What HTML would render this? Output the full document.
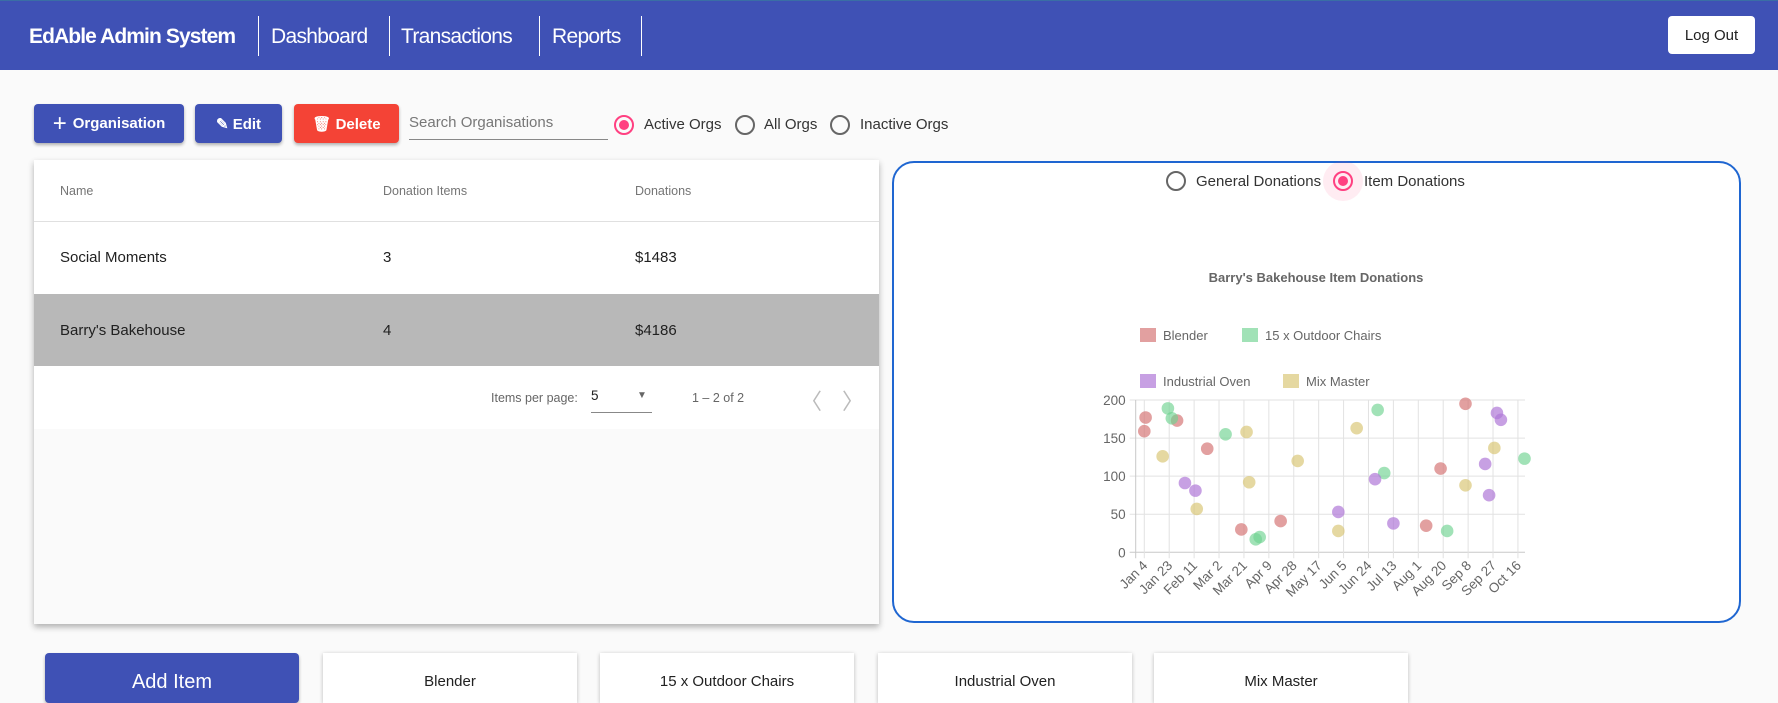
<!DOCTYPE html>
<html><head><meta charset="utf-8">
<style>
*{box-sizing:border-box;margin:0;padding:0}
body{width:1778px;height:692px;overflow:hidden;background:#fafafa;font-family:"Liberation Sans",sans-serif;position:relative;color:#212121}
.abs{position:absolute}
.hdr{left:0;top:0;width:1778px;height:70px;background:#3f51b5;border-top:1px solid #3a6ea5}
.nav{color:#fff;font-size:21px;top:25px;letter-spacing:-0.7px}
.div{top:16px;width:1px;height:40px;background:#fff}
.btn{color:#fff;font-weight:bold;font-size:15px;border-radius:4px;display:flex;align-items:center;justify-content:center;box-shadow:0 2px 3px rgba(0,0,0,.3)}
.radio{width:20px;height:20px;border:2px solid #666;border-radius:50%}
.radio.on{border-color:#ff4081}
.radio.on::after{content:"";position:absolute;left:3px;top:3px;width:10px;height:10px;border-radius:50%;background:#ff4081}
.lbl{font-size:15px;color:#333}
.card{background:#fff;box-shadow:0 3px 6px rgba(0,0,0,.3)}
.cell{font-size:15px}
.hcell{font-size:12.5px;color:#757575}
.tile{top:653px;width:254px;height:50px;background:#fff;box-shadow:0 1px 4px rgba(0,0,0,.25);text-align:center;padding-top:20px;font-size:15px}
</style></head><body>
<div class="abs hdr"></div>
<div class="abs nav" style="left:29px;font-weight:bold;font-size:21px;letter-spacing:-0.9px">EdAble Admin System</div>
<div class="abs div" style="left:258px"></div><div class="abs div" style="left:389px"></div><div class="abs div" style="left:539px"></div><div class="abs div" style="left:641px"></div>
<div class="abs nav" style="left:271px">Dashboard</div>
<div class="abs nav" style="left:401px">Transactions</div>
<div class="abs nav" style="left:552px">Reports</div>
<div class="abs" style="left:1668px;top:16px;width:87px;height:38px;background:#fff;border-radius:4px;font-size:15px;display:flex;align-items:center;justify-content:center">Log Out</div>

<div class="abs btn" style="left:34px;top:104px;width:150px;height:39px;background:#3f51b5"><span style="font-size:24px;font-weight:normal;margin-right:6px">+</span>Organisation</div>
<div class="abs btn" style="left:195px;top:104px;width:87px;height:39px;background:#3f51b5">✎ Edit</div>
<div class="abs btn" style="left:294px;top:104px;width:105px;height:39px;background:#f44336">🗑 Delete</div>
<div class="abs" style="left:409px;top:114px;width:199px;height:26px;border-bottom:1px solid #888;font-size:15px;color:#777">Search Organisations</div>
<div class="abs radio on" style="left:614px;top:115px"></div>
<div class="abs lbl" style="left:644px;top:116px">Active Orgs</div>
<div class="abs radio" style="left:735px;top:115px"></div>
<div class="abs lbl" style="left:764px;top:116px">All Orgs</div>
<div class="abs radio" style="left:830px;top:115px"></div>
<div class="abs lbl" style="left:860px;top:116px">Inactive Orgs</div>

<div class="abs card" style="left:34px;top:160px;width:845px;height:464px;background:#fafafa">
 <div class="abs" style="left:0;top:0;width:845px;height:269px;background:#fff"></div>
 <div class="abs hcell" style="left:26px;top:24px">Name</div>
 <div class="abs hcell" style="left:349px;top:24px">Donation Items</div>
 <div class="abs hcell" style="left:601px;top:24px">Donations</div>
 <div class="abs" style="left:0;top:61px;width:845px;height:1px;background:#e0e0e0"></div>
 <div class="abs cell" style="left:26px;top:89px">Social Moments</div>
 <div class="abs cell" style="left:349px;top:89px">3</div>
 <div class="abs cell" style="left:601px;top:89px">$1483</div>
 <div class="abs" style="left:0;top:134px;width:845px;height:72px;background:#b8b8b8"></div>
 <div class="abs cell" style="left:26px;top:162px">Barry's Bakehouse</div>
 <div class="abs cell" style="left:349px;top:162px">4</div>
 <div class="abs cell" style="left:601px;top:162px">$4186</div>
 <div class="abs" style="left:457px;top:231px;font-size:12.5px;color:#666">Items per page:</div>
 <div class="abs" style="left:557px;top:228px;width:61px;height:25px;border-bottom:1px solid #888;font-size:13.5px">5<span style="position:absolute;left:46px;top:2px;font-size:10px;color:#666">▼</span></div>
 <div class="abs" style="left:658px;top:231px;font-size:12.5px;color:#666">1 – 2 of 2</div>
 <div class="abs" style="left:766px;top:224px;font-size:22px;color:#bbb">〈</div>
 <div class="abs" style="left:808px;top:224px;font-size:22px;color:#bbb">〉</div>
</div>

<div class="abs" style="left:892px;top:161px;width:849px;height:462px;border:2.5px solid #1f66d1;border-radius:22px;background:#fff"></div>
<div class="abs radio" style="left:1166px;top:171px"></div>
<div class="abs lbl" style="left:1196px;top:173px">General Donations</div>
<div class="abs" style="left:1323px;top:161px;width:40px;height:40px;border-radius:50%;background:rgba(255,64,129,.1)"></div>
<div class="abs radio on" style="left:1333px;top:171px"></div>
<div class="abs lbl" style="left:1364px;top:173px">Item Donations</div>

<svg class="abs" style="left:0;top:0" width="1778" height="692" id="chart"></svg>

<div class="abs btn" style="left:45px;top:653px;width:254px;height:50px;font-size:20px;font-weight:normal;align-items:flex-start;padding-top:18px;background:#3f51b5">Add Item</div>
<div class="abs tile" style="left:323px">Blender</div>
<div class="abs tile" style="left:600px">15 x Outdoor Chairs</div>
<div class="abs tile" style="left:878px">Industrial Oven</div>
<div class="abs tile" style="left:1154px">Mix Master</div>

<script>
const tickLabels=["Jan 4","Jan 23","Feb 11","Mar 2","Mar 21","Apr 9","Apr 28","May 17","Jun 5","Jun 24","Jul 13","Aug 1","Aug 20","Sep 8","Sep 27","Oct 16"];
const yTicks=[0,50,100,150,200];
const seriesNames=["Blender","15 x Outdoor Chairs","Industrial Oven","Mix Master"];
// day offsets from Jan 4
const blenderDays=[1,0,25,48,74,104,215,226,245];
const blenderVals=[177,159,173,136,30,41,35,110,195];
const chairsDays=[18,21,62,85,88,178,183,231,290];
const chairsVals=[189,176,155,17,20,187,104,28,123];
const ovenDays=[31,39,148,176,190,260,263,269,272];
const ovenVals=[91,81,53,96,38,116,75,183,174];
const mixDays=[14,40,78,80,117,148,162,245,267];
const mixVals=[126,57,158,92,120,28,163,88,137];
const colors=["rgba(214,120,120,0.7)","rgba(110,210,145,0.65)","rgba(175,120,215,0.7)","rgba(215,195,110,0.65)"];
const svg=document.getElementById('chart');const NS="http://www.w3.org/2000/svg";
const X0=1135.7,X1=1525,Y0=552.3,Y1=400,D0=1144.3,PPD=1.311;
const xs=d=>D0+d*PPD, ys=v=>Y0-(v/200)*(Y0-Y1);
function mk(t,a,txt){const e=document.createElementNS(NS,t);for(const k in a)e.setAttribute(k,a[k]);if(txt!==undefined)e.textContent=txt;svg.appendChild(e);return e;}
let e=mk('text',{x:1316,y:282,'text-anchor':'middle','font-size':13,'font-weight':'bold',fill:'#666','font-family':'Liberation Sans'},"Barry's Bakehouse Item Donations");


const legPos=[[1140,335],[1242,335],[1140,381],[1283,381]];
seriesNames.forEach((n,i)=>{
 let r=mk('rect',{x:legPos[i][0],y:legPos[i][1]-7,width:16,height:14,fill:colors[i]});
 
 
 let t=mk('text',{x:legPos[i][0]+23,y:legPos[i][1]+5,'font-size':13,fill:'#666','font-family':'Liberation Sans'},n);
 
 
});
yTicks.forEach(v=>{
 mk('line',{x1:X0-6,x2:X1,y1:ys(v),y2:ys(v),stroke:v===0?'#c8c8c8':'#e2e2e2'});
 let t=mk('text',{x:X0-10,y:ys(v)+5,'text-anchor':'end','font-size':13.5,fill:'#666','font-family':'Liberation Sans'},v);
 
 
});
mk('line',{x1:X0,x2:X0,y1:Y1,y2:Y0+6,stroke:'#c8c8c8'});
tickLabels.forEach((l,i)=>{
 const x=xs(i*19);
 mk('line',{x1:x,x2:x,y1:Y1,y2:Y0+6,stroke:'#e2e2e2'});
 let t=mk('text',{x:x+4,y:Y0+14,'text-anchor':'end','font-size':13.5,fill:'#666','font-family':'Liberation Sans',transform:`rotate(-45 ${x+4} ${Y0+14})`},l);
 
 
});
[[blenderDays,blenderVals],[chairsDays,chairsVals],[ovenDays,ovenVals],[mixDays,mixVals]].forEach((s,i)=>{
 s[0].forEach((d,j)=>{
  let c=mk('circle',{cx:xs(d),cy:ys(s[1][j]),r:6.3,fill:colors[i]});
  
  
 });
});
</script>
</body></html>
